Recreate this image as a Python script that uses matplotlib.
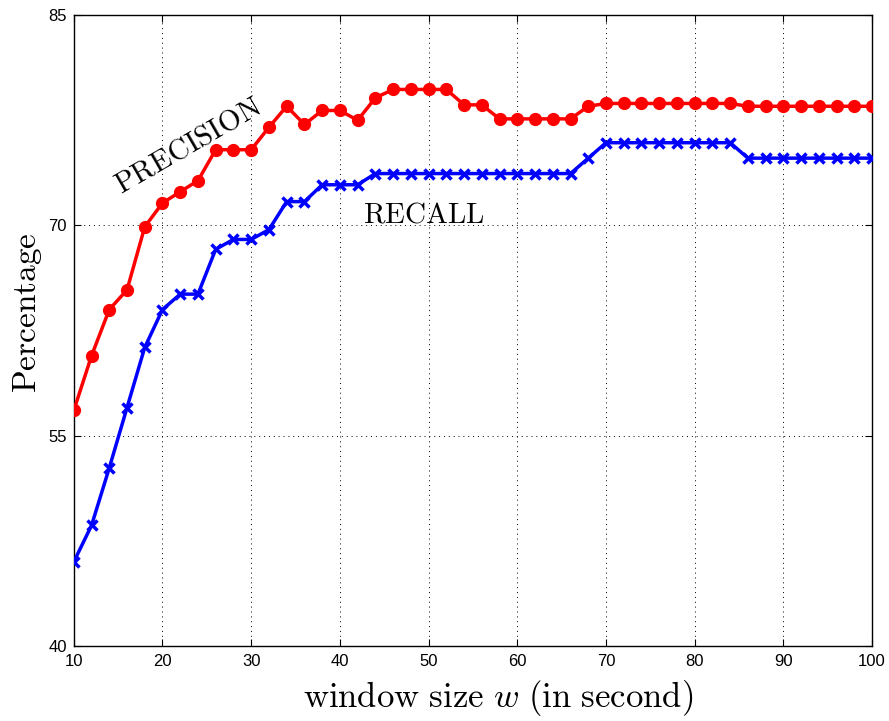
#Precision and recall versus window size
import matplotlib
matplotlib.use("Agg")
import matplotlib.pyplot as plt

w = [10, 12, 14, 16, 18, 20, 22, 24, 26, 28, 30, 32, 34, 36, 38, 40, 42, 44, 46, 48,
     50, 52, 54, 56, 58, 60, 62, 64, 66, 68, 70, 72, 74, 76, 78, 80, 82, 84, 86, 88,
     90, 92, 94, 96, 98, 100]

precision = [56.8, 60.7, 64.0, 65.4, 69.9, 71.6, 72.4, 73.2, 75.4, 75.4, 75.4, 77.0, 78.5, 77.2, 78.2, 78.2,
             77.5, 79.1, 79.7, 79.7, 79.7, 79.7, 78.6, 78.6, 77.6, 77.6, 77.6, 77.6, 77.6, 78.5, 78.7, 78.7,
             78.7, 78.7, 78.7, 78.7, 78.7, 78.7, 78.5, 78.5, 78.5, 78.5, 78.5, 78.5, 78.5, 78.5]

recall = [46.0, 48.6, 52.7, 57.0, 61.3, 64.0, 65.1, 65.1, 68.3, 69.0, 69.0, 69.7, 71.7, 71.7, 72.9, 72.9,
          72.9, 73.7, 73.7, 73.7, 73.7, 73.7, 73.7, 73.7, 73.7, 73.7, 73.7, 73.7, 73.7, 74.8, 75.9, 75.9,
          75.9, 75.9, 75.9, 75.9, 75.9, 75.9, 74.8, 74.8, 74.8, 74.8, 74.8, 74.8, 74.8, 74.8]

xticks = [10, 20, 30, 40, 50, 60, 70, 80, 90, 100]
yticks = [40, 55, 70, 85]

plt.rcParams['mathtext.fontset'] = 'cm'
plt.rcParams['font.family'] = ['Liberation Sans', 'DejaVu Sans']

fig = plt.figure(figsize=(8.89, 7.21), dpi=100)
ax = fig.add_axes([0.083, 0.104, 0.898, 0.875])

ax.plot(w, precision, 'o-', color='red', lw=2.5, ms=8.5, zorder=3)
ax.plot(w, recall, 'x-', color='blue', lw=2.5, ms=7, mew=2.5, zorder=3)

ax.set_xlim(10, 100)
ax.set_ylim(40, 85)
ax.set_xticks(xticks)
ax.set_yticks(yticks)
ax.tick_params(direction='in', top=True, right=True, labelsize=12, length=5, width=0.8)
ax.tick_params(axis='x', pad=6)
ax.tick_params(axis='y', pad=5)
ax.grid(True, color='black', linestyle=(0, (1, 4)), lw=0.7)
for s in ax.spines.values():
    s.set_linewidth(1.0)

ax.set_xlabel(r'$\mathrm{window\ size}\ w\ \mathrm{(in\ second)}$', fontsize=25)
ax.xaxis.set_label_coords(0.532, -0.05)
ax.set_ylabel(r'$\mathrm{Percentage}$', fontsize=24)
ax.yaxis.set_label_coords(-0.037, 0.529)

ax.text(22.9, 75.7, r'$\mathrm{PRECISION}$', fontsize=21, rotation=30,
        ha='center', va='center')
ax.text(49.5, 70.75, r'$\mathrm{RECALL}$', fontsize=21, ha='center', va='center')

plt.savefig('out.png', dpi=100)
